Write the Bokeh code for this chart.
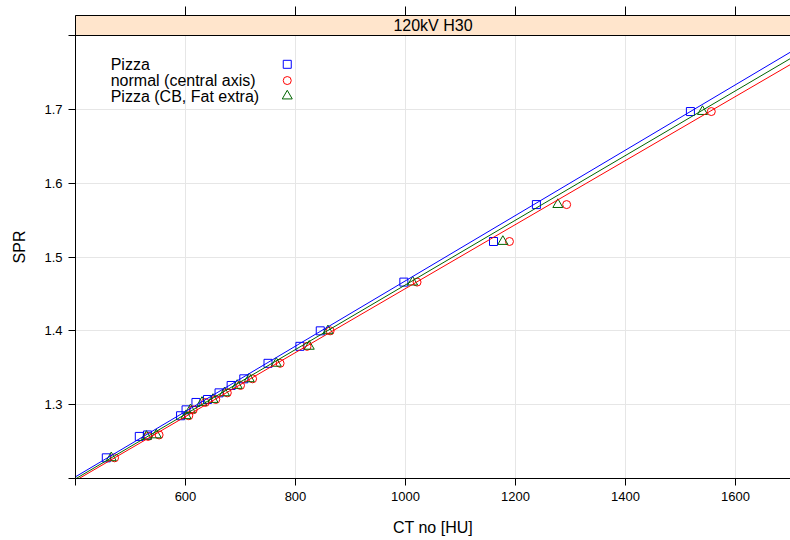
import numpy as np
from bokeh.plotting import figure
from bokeh.models import Range1d, FixedTicker, LinearAxis
from bokeh.core.properties import value
from bokeh.embed import file_html
from bokeh.resources import INLINE

# ---- data ----
spr = [1.228, 1.257, 1.259, 1.285, 1.293, 1.303, 1.307, 1.316, 1.326, 1.335,
       1.356, 1.379, 1.400, 1.466, 1.521, 1.571, 1.697]
ct_pizza = [456, 516, 531, 591, 601, 619, 640, 661, 683, 706,
            750, 808, 845, 997, 1160, 1238, 1518]
ct_normal = [471, 532, 552, 606, 614, 636, 655, 676, 700, 722,
             772, 821, 863, 1021, 1189, 1293, 1556]
ct_cbfat = [465, 529, 547, 601, 609, 630, 650, 671, 694, 716,
            765, 825, 859, 1013, 1177, 1277, 1540]

# fitted calibration lines (SPR = intercept + slope * CT)
fit_intercept = [1.0253, 1.0238, 1.0243]
fit_slope = [0.0004425, 0.0004335, 0.000438]

series_names = ["Pizza", "normal (central axis)", "Pizza (CB, Fat extra)"]
series_colors = ["#0000FF", "#FF0000", "#006400"]
series_markers = ["square", "circle", "triangle"]
series_sizes = [8, 8, 10]
strip_label = "120kV H30"

x_ticks = [600, 800, 1000, 1200, 1400, 1600]
x_edge_ticks = [400]
y_ticks = [1.3, 1.4, 1.5, 1.6, 1.7]
y_edge_ticks = [1.2, 1.8]

X_MIN, X_MAX = 400, 1700
Y_MIN, Y_MAX = 1.2, 1.8
STRIP_TOP = 1.8271

LEGEND_TEXT_X = 464
LEGEND_KEY_X = 785
LEGEND_Y = [1.761, 1.739, 1.718]

FONT = "Liberation Sans"

p = figure(width=790, height=540, output_backend="svg", toolbar_location=None,
           x_range=Range1d(X_MIN, X_MAX), y_range=Range1d(Y_MIN, STRIP_TOP),
           min_border_left=75, min_border_right=0, min_border_top=15,
           min_border_bottom=62, background_fill_color="white",
           border_fill_color="white")
p.outline_line_color = None

# grid
p.xgrid.ticker = FixedTicker(ticks=x_edge_ticks + x_ticks)
p.ygrid.ticker = FixedTicker(ticks=y_edge_ticks[:1] + y_ticks + y_edge_ticks[1:])
for g in (p.xgrid, p.ygrid):
    g.grid_line_color = "#E6E6E6"
    g.grid_line_width = 1

# bottom axis
xa = p.xaxis[0]
xa.ticker = FixedTicker(ticks=x_ticks, minor_ticks=x_edge_ticks)
xa.axis_label = "CT no [HU]"
# left axis
ya = p.yaxis[0]
ya.ticker = FixedTicker(ticks=y_ticks, minor_ticks=y_edge_ticks)
ya.axis_label = "SPR"
for ax in (xa, ya):
    ax.major_tick_out = 7
    ax.major_tick_in = 0
    ax.minor_tick_out = 7
    ax.minor_tick_in = 0
    ax.minor_tick_line_color = "black"
    ax.axis_line_color = "black"
    ax.major_tick_line_color = "black"
    ax.major_label_text_font = FONT
    ax.major_label_text_font_size = "13px"
    ax.major_label_text_color = "black"
    ax.axis_label_text_font = FONT
    ax.axis_label_text_font_size = "16px"
    ax.axis_label_text_font_style = "normal"
    ax.axis_label_text_color = "black"
xa.major_label_standoff = 6
xa.axis_label_standoff = 15
ya.major_label_standoff = 6
ya.axis_label_standoff = 13

# top axis (ticks only, no labels)
top = LinearAxis(ticker=FixedTicker(ticks=[], minor_ticks=x_ticks),
                 minor_tick_out=9, minor_tick_in=0, major_tick_out=0,
                 minor_tick_line_color="black", axis_line_color="black")
p.add_layout(top, "above")

# data points and calibration lines
line_x = np.array([X_MIN, X_MAX], dtype=float)
for ct, col, mk, sz in zip([ct_pizza, ct_normal, ct_cbfat], series_colors,
                           series_markers, series_sizes):
    p.scatter(ct, spr, marker=mk, size=sz, fill_color=None, line_color=col,
              line_width=1)
for a, b, col in zip(fit_intercept, fit_slope, series_colors):
    p.line(line_x, a + b * line_x, line_color=col, line_width=1)

# strip
p.quad(left=[X_MIN], right=[X_MAX], bottom=[Y_MAX], top=[STRIP_TOP],
       fill_color="#FFE5CC", line_color="black", line_width=1)
p.text(x=[(X_MIN + X_MAX) / 2], y=[(Y_MAX + STRIP_TOP) / 2], text=[strip_label],
       text_font=value(FONT), text_font_size=value("16px"), text_align="center",
       text_baseline="middle", text_color="black")

# legend (text left, key right as in the reference)
p.text(x=[LEGEND_TEXT_X] * 3, y=LEGEND_Y, text=series_names,
       text_font=value(FONT), text_font_size=value("16px"), text_align="left",
       text_baseline="middle", text_color="black")
for yv, col, mk, sz in zip(LEGEND_Y, series_colors, series_markers, series_sizes):
    p.scatter([LEGEND_KEY_X], [yv], marker=mk, size=sz, fill_color=None,
              line_color=col, line_width=1)

open("out.html", "w").write(file_html(p, INLINE))
